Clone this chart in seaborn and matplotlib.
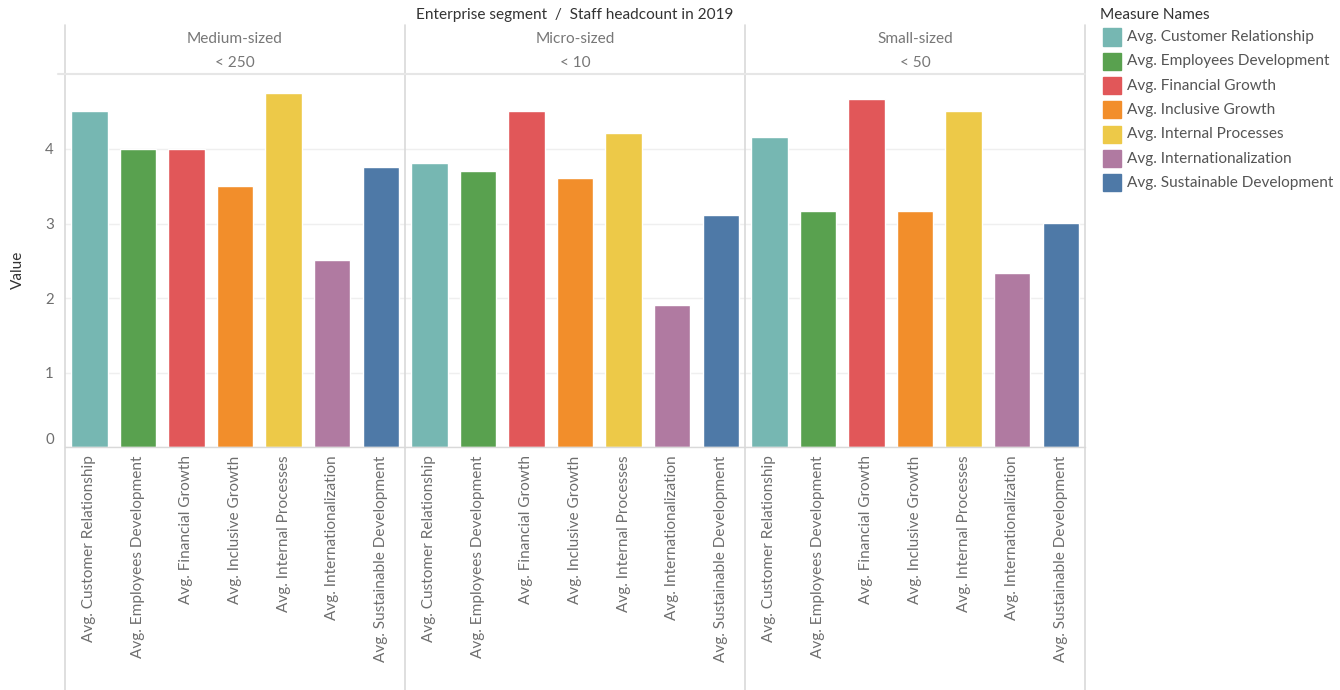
import matplotlib
matplotlib.use("Agg")
import matplotlib.pyplot as plt
from matplotlib.patches import Rectangle
from matplotlib.lines import Line2D
import seaborn as sns
import pandas as pd

sns.set_theme(style="white")
plt.rcParams["font.family"] = ["Lato", "DejaVu Sans"]

segments = ["Medium-sized", "Micro-sized", "Small-sized"]
headcounts = ["< 250", "< 10", "< 50"]
measures = [
    "Avg. Customer Relationship",
    "Avg. Employees Development",
    "Avg. Financial Growth",
    "Avg. Inclusive Growth",
    "Avg. Internal Processes",
    "Avg. Internationalization",
    "Avg. Sustainable Development",
]
medium_vals = [4.51, 4.00, 4.00, 3.50, 4.75, 2.51, 3.76]
micro_vals = [3.81, 3.70, 4.51, 3.61, 4.21, 1.91, 3.11]
small_vals = [4.16, 3.17, 4.67, 3.17, 4.51, 2.34, 3.01]
colors = ["#76B7B2", "#59A14F", "#E15759", "#F28E2B", "#EDC948", "#B07AA1", "#4E79A7"]
y_ticks = [0, 1, 2, 3, 4]

palette = dict(zip(measures, colors))
frames = []
for seg, vals in zip(segments, [medium_vals, micro_vals, small_vals]):
    frames.append(pd.DataFrame({"segment": seg, "measure": measures, "value": vals}))
df = pd.concat(frames, ignore_index=True)

W, H = 1340, 690
fig = plt.figure(figsize=(W / 100, H / 100), dpi=100)

def fx(px):
    return px / W

def fy(py):
    return 1 - py / H

FS = 11.1
panel_left = [65, 405, 745]
panel_w = 340
top_px, bottom_px = 74, 447
grid_col = "#EFEFEF"
line_col = "#D9D9D9"
tick_col = "#6E6E6E"

for i, seg in enumerate(segments):
    ax = fig.add_axes([fx(panel_left[i]), fy(bottom_px), fx(panel_w), fy(top_px) - fy(bottom_px)])
    sub = df[df["segment"] == seg]
    sns.barplot(data=sub, x="measure", y="value", hue="measure", palette=palette,
                order=measures, hue_order=measures, dodge=False, legend=False,
                width=0.75, saturation=1, ax=ax, errorbar=None)
    ax.set_ylim(0, (bottom_px - top_px) / 74.5)
    ax.set_xlim(-0.5, len(measures) - 0.5)
    ax.set_yticks(y_ticks)
    ax.yaxis.grid(True, color=grid_col, linewidth=1)
    ax.set_axisbelow(True)
    ax.set_xlabel("")
    ax.set_ylabel("")
    for s in ax.spines.values():
        s.set_visible(False)
    ax.spines["bottom"].set_visible(True)
    ax.spines["bottom"].set_color(line_col)
    ax.spines["bottom"].set_linewidth(1)
    ax.set_xticks(range(len(measures)))
    ax.set_xticklabels(measures, rotation=90, fontsize=FS, color=tick_col, va="top")
    ax.tick_params(axis="x", length=0, pad=6)
    if i == 0:
        labels = ax.set_yticklabels([str(t) for t in y_ticks], fontsize=FS - 0.3, color=tick_col)
        labels[0].set_va("bottom")
        ax.tick_params(axis="y", length=0, pad=8)
    else:
        ax.set_yticklabels([])
        ax.tick_params(axis="y", length=0)
    # header text
    cx = fx(panel_left[i] + panel_w / 2)
    fig.text(cx, fy(39), seg, ha="center", va="center", fontsize=FS, color="#777777")
    fig.text(cx, fy(63), headcounts[i], ha="center", va="center", fontsize=FS, color="#777777")

# panel separators and header rule
for xp in [65, 405, 745, 1085]:
    fig.add_artist(Line2D([fx(xp), fx(xp)], [fy(25), fy(690)], color=line_col, linewidth=1.2))
fig.add_artist(Line2D([fx(58), fx(1085)], [fy(74), fy(74)], color="#E6E6E6", linewidth=1.5))

fig.text(fx(575), fy(15), "Enterprise segment  /  Staff headcount in 2019", ha="center", va="center",
         fontsize=FS, color="#333333")
fig.text(fx(18), fy(270), "Value", ha="center", va="center", rotation=90, fontsize=FS,
         color="#333333")

# legend
fig.text(fx(1100), fy(15), "Measure Names", ha="left", va="center", fontsize=FS, color="#333333")
for k, (m, c) in enumerate(zip(measures, colors)):
    yc = 37 + k * 24.3
    fig.add_artist(Rectangle((fx(1103), fy(yc + 8.5)), fx(18), fy(yc - 8.5) - fy(yc + 8.5),
                             color=c, transform=fig.transFigure))
    fig.text(fx(1127), fy(yc), m, ha="left", va="center", fontsize=FS, color="#555555")

fig.savefig("out.png", dpi=100)
